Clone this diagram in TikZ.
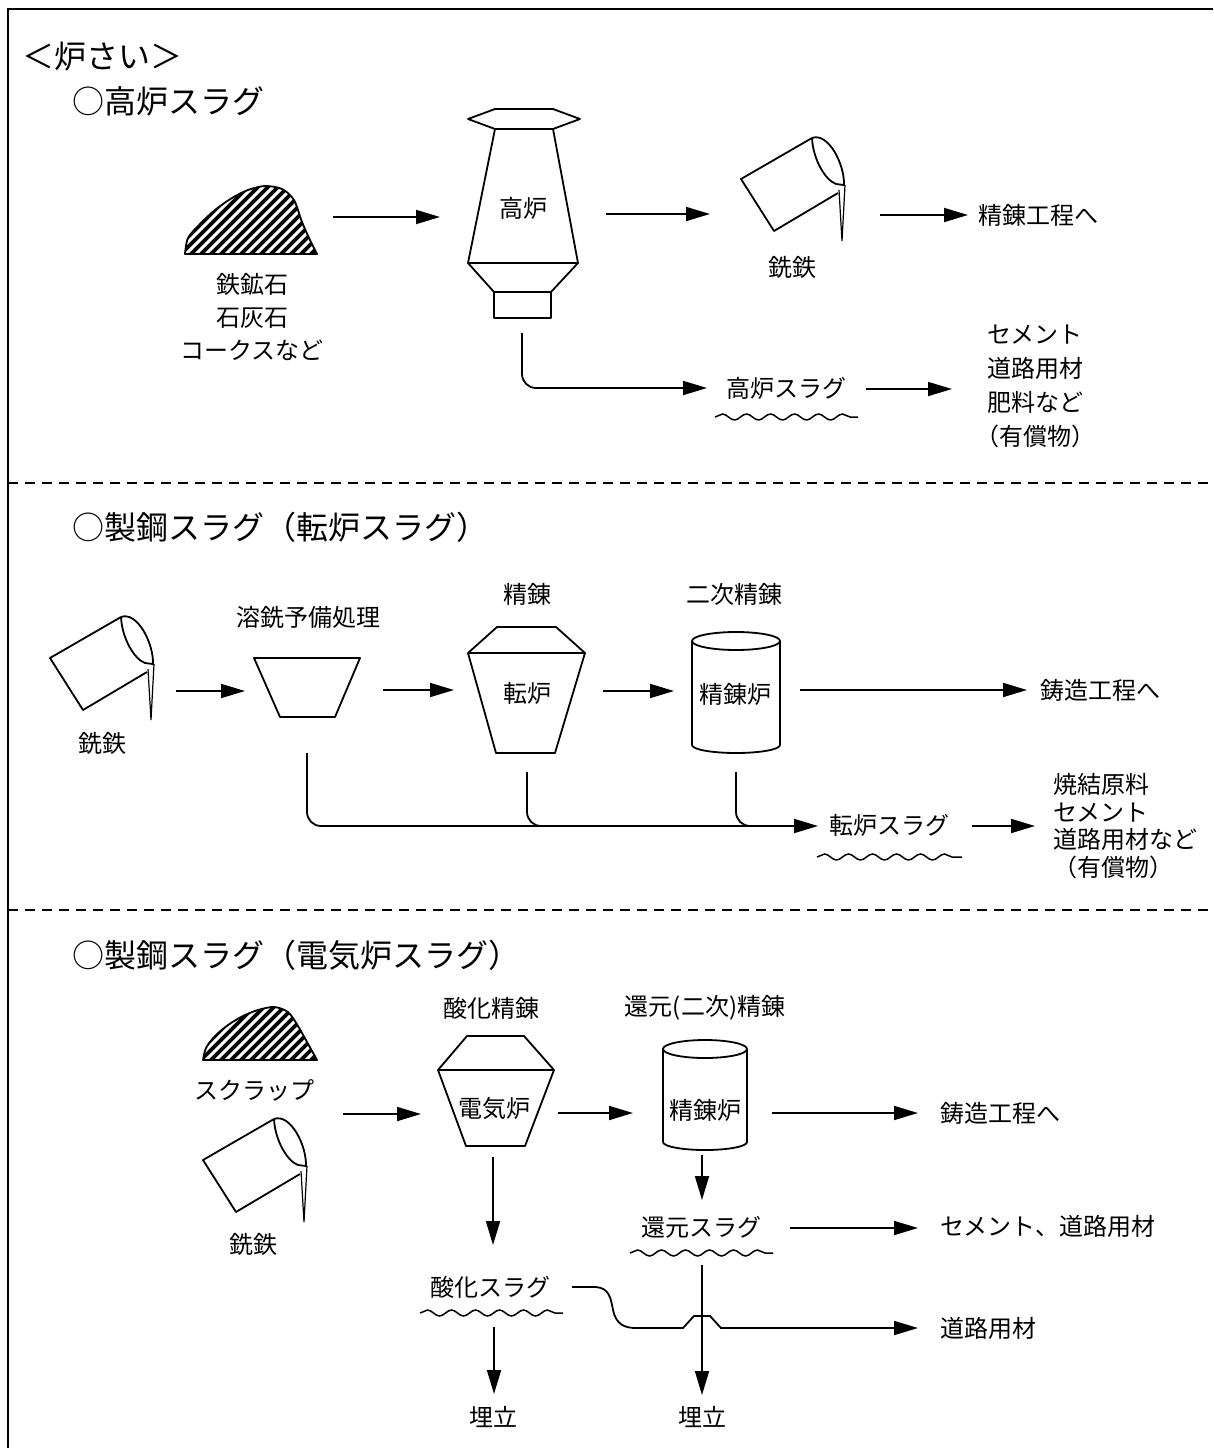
\documentclass[tikz,border=0pt]{standalone}
\usepackage{fontspec}
\newfontfamily\jp{Noto Sans CJK JP}
\usetikzlibrary{arrows.meta,decorations.pathmorphing}

\begin{document}
\begin{tikzpicture}[
    x=1pt, y=-1pt,
    every node/.style={font=\jp\fontsize{24}{30}\selectfont, inner sep=0pt},
    heading/.style={anchor=west, font=\jp\fontsize{32}{38}\selectfont},
    unit/.style={line width=1.8pt, line join=round},
    flow/.style={-{Triangle[length=24pt,width=14pt]}, line width=1.8pt},
    slag/.style={line width=1.5pt, decorate, decoration={snake, segment length=24pt, amplitude=3pt}},
    sep/.style={line width=1.5pt, dash pattern=on 10pt off 7pt},
    ladle/.pic={
        \draw[unit] (-31,-46) -- (-102,-5) -- (-69,47) -- (-5,9);
        \draw[unit] (-31,-46) .. controls (-15,-52) and (2,-20) .. (1,2);
        \draw[unit] (-31,-46) .. controls (-30,-25) and (-18,-4) .. (-7,0) -- (1,1);
        \draw[line width=1.2pt] (-4,6) -- (-1,57) -- (2,1);
    }
]
    \useasboundingbox (0,0) rectangle (1213,1448);
    \draw[line width=2.5pt] (1213,9) -- (8,9) -- (8,1448);
    \draw[sep] (8,483) -- (1213,483);
    \draw[sep] (8,910) -- (1213,910);

    \node[heading] (hdr) at (22,57) {＜炉さい＞};
    \node[heading] (t1) at (72,101) {○高炉スラグ};
    \node[heading] (t2) at (72,527) {○製鋼スラグ（転炉スラグ）};
    \node[heading] (t3) at (72,955) {○製鋼スラグ（電気炉スラグ）};

    % Blast furnace line
    \begin{scope}
        \clip plot[smooth] coordinates {(185,254) (188,238) (200,224) (215,210) (232,198) (248,190) (265,186) (282,189) (294,200) (302,222) (310,240) (317,254)} -- cycle;
        \fill (180,180) rectangle (322,258);
        \foreach \s in {100,110,...,330}
            \draw[white, line width=3pt] (\s,260) -- ++(80,-80);
    \end{scope}
    \draw[unit] plot[smooth] coordinates {(185,254) (188,238) (200,224) (215,210) (232,198) (248,190) (265,186) (282,189) (294,200) (302,222) (310,240) (317,254)} -- cycle;
    \node[align=center, font=\jp\fontsize{24}{33}\selectfont] (ore1) at (252,317) {鉄鉱石\\石灰石\\コークスなど};

    \draw[unit] (468,119) -- (495,109) -- (553,109) -- (580,119) -- (553,129) -- (495,129) -- cycle;
    \draw[unit] (495,129) -- (468,263) -- (578,263) -- (553,129);
    \draw[unit] (468,263) -- (494,292) -- (551,292) -- (578,263);
    \draw[unit] (494,292) rectangle (551,318);
    \node (bf) at (523,208) {高炉};

    \pic at (843,184) {ladle};
    \node (pig1) at (792,267) {銑鉄};
    \node[anchor=west] (next1) at (978,215) {精錬工程へ};
    \node (bfs) at (786,388) {高炉スラグ};
    \draw[slag] (715,417) -- (858,417);
    \node[align=center, font=\jp\fontsize{24}{34}\selectfont] (use1) at (1035,386) {セメント\\道路用材\\肥料など\\（有償物）};

    \coordinate (ore1-e) at (333,217);  \coordinate (bf-w) at (440,217);
    \coordinate (bf-e) at (606,214);    \coordinate (pig1-w) at (710,214);
    \coordinate (pig1-e) at (880,215);  \coordinate (next1-w) at (968,215);
    \coordinate (bf-s) at (522,333);    \coordinate (bfs-w) at (707,388);
    \coordinate (bfs-e) at (866,389);   \coordinate (use1-w) at (952,389);
    \draw[flow] (ore1-e) -- (bf-w);
    \draw[flow] (bf-e) -- (pig1-w);
    \draw[flow] (pig1-e) -- (next1-w);
    \draw[flow, rounded corners=14pt] (bf-s) |- (bfs-w);
    \draw[flow] (bfs-e) -- (use1-w);

    % Converter line
    \pic at (152,663) {ladle};
    \node (pig2) at (102,743) {銑鉄};
    \draw[unit] (254,658) -- (360,658) -- (335,717) -- (280,717) -- cycle;
    \node (pre) at (308,617) {溶銑予備処理};
    \draw[unit] (468,653) -- (497,627) -- (556,627) -- (585,653) -- cycle;
    \draw[unit] (468,653) -- (496,753) -- (555,753) -- (585,653);
    \node (bof) at (527,693) {転炉};
    \node (ref1) at (527,594) {精錬};
    \node (drum1) at (735,694) {精錬炉};
    \node (sec1) at (734,594) {二次精錬};
    \node[anchor=west] (cast1) at (1040,690) {鋳造工程へ};
    \node (bofs) at (889,825) {転炉スラグ};
    \draw[slag] (817,857) -- (962,857);
    \node[anchor=west, align=left, font=\jp\fontsize{24}{27.5}\selectfont] (use2) at (1053,826) {焼結原料\\セメント\\道路用材など\\（有償物）};

    \foreach \cx/\cy/\h/\r in {736/641/104/44, 705/1049/93/42} {
        \draw[unit] (\cx,\cy) ellipse [x radius=\r, y radius=9];
        \draw[unit] (\cx-\r,\cy) -- ++(0,\h) arc[start angle=180, end angle=0, x radius=\r, y radius=8] -- (\cx+\r,\cy);
    }

    \coordinate (pig2-e) at (176,691);  \coordinate (pre-w) at (245,691);
    \coordinate (pre-e) at (383,690);   \coordinate (bof-w) at (454,690);
    \coordinate (bof-e) at (603,691);   \coordinate (drum1-w) at (674,691);
    \coordinate (drum1-e) at (800,690); \coordinate (cast1-w) at (1027,690);
    \coordinate (pre-s) at (307,753);   \coordinate (bofs-w) at (818,826);
    \coordinate (bof-s) at (527,772);   \coordinate (j1) at (575,826);
    \coordinate (drum1-s) at (736,772); \coordinate (j2) at (785,826);
    \coordinate (bofs-e) at (972,826);  \coordinate (use2-w) at (1035,826);
    \draw[flow] (pig2-e) -- (pre-w);
    \draw[flow] (pre-e) -- (bof-w);
    \draw[flow] (bof-e) -- (drum1-w);
    \draw[flow] (drum1-e) -- (cast1-w);
    \draw[flow, rounded corners=14pt] (pre-s) |- (bofs-w);
    \draw[unit, rounded corners=14pt] (bof-s) |- (j1);
    \draw[unit, rounded corners=14pt] (drum1-s) |- (j2);
    \draw[flow] (bofs-e) -- (use2-w);

    % Electric arc furnace line
    \begin{scope}
        \clip plot[smooth] coordinates {(203,1060) (206,1048) (215,1036) (228,1025) (243,1016) (258,1010) (274,1007) (288,1012) (298,1026) (307,1042) (317,1060)} -- cycle;
        \fill (198,1000) rectangle (322,1064);
        \foreach \s in {120,130,...,330}
            \draw[white, line width=3pt] (\s,1066) -- ++(70,-70);
    \end{scope}
    \draw[unit] plot[smooth] coordinates {(203,1060) (206,1048) (215,1036) (228,1025) (243,1016) (258,1010) (274,1007) (288,1012) (298,1026) (307,1042) (317,1060)} -- cycle;
    \node (scrap) at (254,1090) {スクラップ};
    \pic at (305,1165) {ladle};
    \node (pig3) at (253,1244) {銑鉄};

    \draw[unit] (438,1070) -- (467,1036) -- (524,1036) -- (554,1070) -- cycle;
    \draw[unit] (438,1070) -- (466,1146) -- (525,1146) -- (554,1070);
    \node (eaf) at (494,1108) {電気炉};
    \node (oxr) at (491,1008) {酸化精錬};
    \node (drum2) at (705,1110) {精錬炉};
    \node (red) at (705,1008) {還元(二次)精錬};
    \node[anchor=west] (cast2) at (940,1113) {鋳造工程へ};
    \node (rds) at (701,1227) {還元スラグ};
    \draw[slag] (630,1253) -- (773,1253);
    \node[anchor=west] (cem) at (940,1226) {セメント、道路用材};
    \node (oxs) at (490,1287) {酸化スラグ};
    \draw[slag] (420,1313) -- (563,1313);
    \node[anchor=west] (road) at (940,1328) {道路用材};
    \node (fill1) at (493,1417) {埋立};
    \node (fill2) at (702,1417) {埋立};

    \coordinate (feed-e) at (343,1114);  \coordinate (eaf-w) at (421,1114);
    \coordinate (eaf-e) at (558,1113);   \coordinate (drum2-w) at (633,1113);
    \coordinate (drum2-e) at (772,1113); \coordinate (cast2-w) at (918,1113);
    \coordinate (eaf-s) at (493,1157);   \coordinate (oxs-n) at (493,1245);
    \coordinate (drum2-s) at (702,1155); \coordinate (rds-n) at (702,1200);
    \coordinate (rds-e) at (790,1228);   \coordinate (cem-w) at (918,1228);
    \coordinate (oxs-s) at (494,1327);   \coordinate (fill1-n) at (494,1394);
    \coordinate (rds-s) at (702,1265);   \coordinate (fill2-n) at (702,1395);
    \coordinate (oxs-e) at (572,1287);   \coordinate (road-w) at (918,1328);
    \draw[flow] (feed-e) -- (eaf-w);
    \draw[flow] (eaf-e) -- (drum2-w);
    \draw[flow] (drum2-e) -- (cast2-w);
    \draw[flow] (eaf-s) -- (oxs-n);
    \draw[flow] (drum2-s) -- (rds-n);
    \draw[flow] (rds-e) -- (cem-w);
    \draw[flow] (oxs-s) -- (fill1-n);
    \draw[flow] (oxs-e) -- (596,1287) .. controls (610,1288) and (611,1300) .. (613,1310)
        .. controls (616,1324) and (624,1328) .. (636,1328) -- (683,1328) -- (694,1316)
        -- (710,1316) -- (721,1328) -- (road-w);
    \draw[flow] (rds-s) -- (fill2-n);
\end{tikzpicture}
\end{document}
